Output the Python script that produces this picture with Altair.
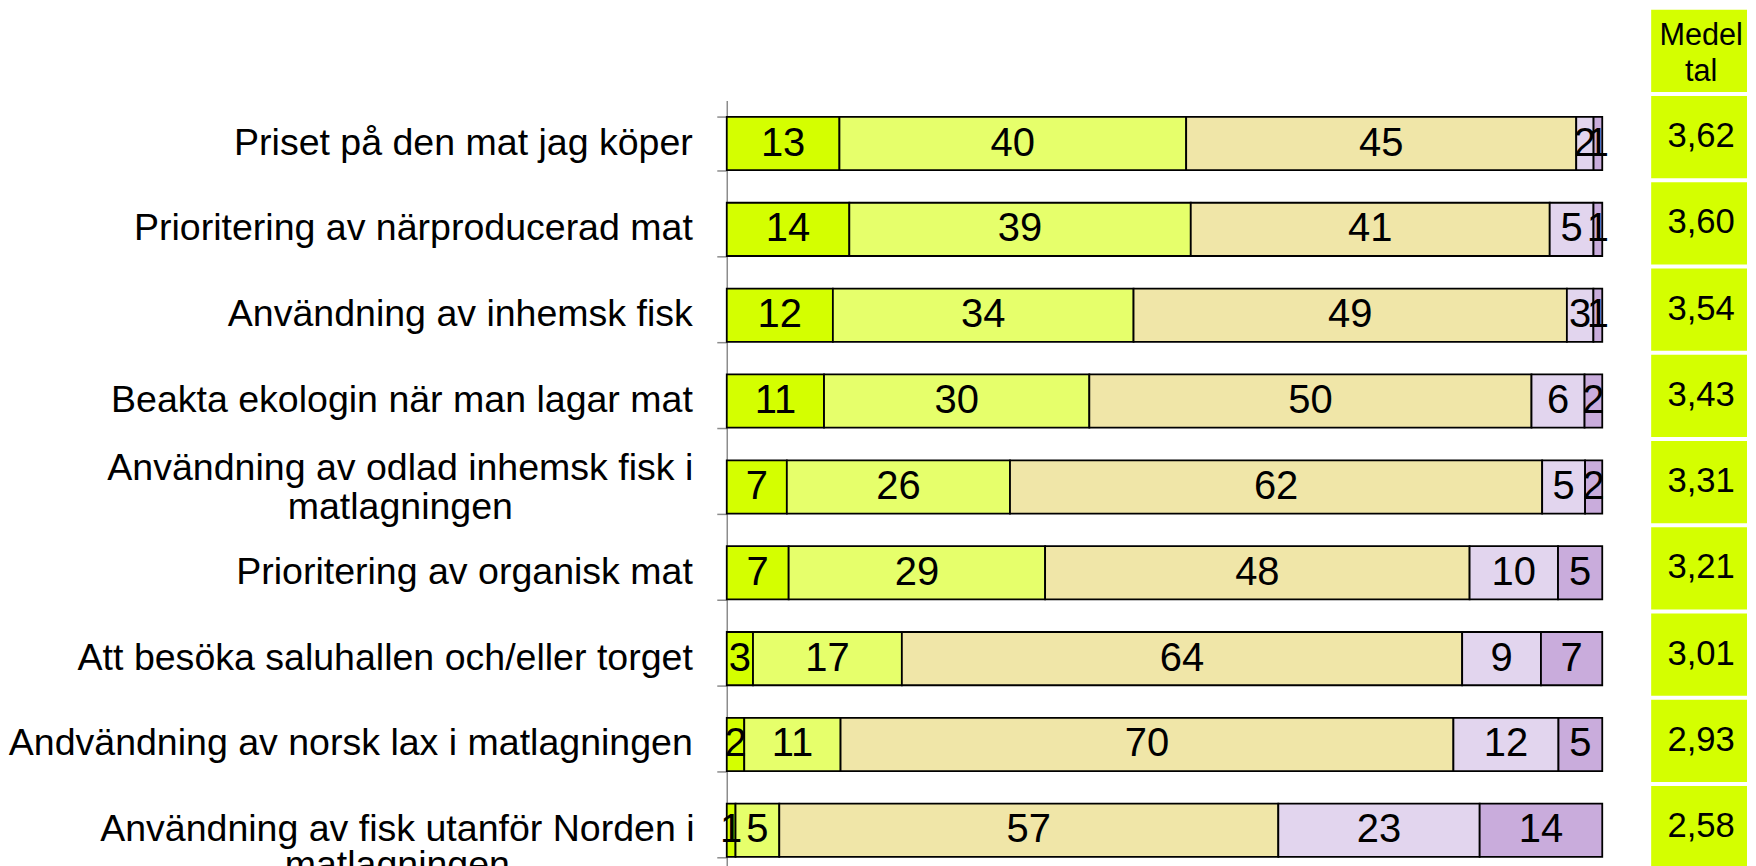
import altair as alt
import pandas as pd

categories = [
    "Priset på den mat jag köper",
    "Prioritering av närproducerad mat",
    "Användning av inhemsk fisk",
    "Beakta ekologin när man lagar mat",
    "Användning av odlad inhemsk fisk i matlagningen",
    "Prioritering av organisk mat",
    "Att besöka saluhallen och/eller torget",
    "Andvändning av norsk lax i matlagningen",
    "Användning av fisk utanför Norden i matlagningen",
]
label_lines = [
    "Priset på den mat jag köper",
    "Prioritering av närproducerad mat",
    "Användning av inhemsk fisk",
    "Beakta ekologin när man lagar mat",
    "Användning av odlad inhemsk fisk i|matlagningen",
    "Prioritering av organisk mat",
    "Att besöka saluhallen och/eller torget",
    "Andvändning av norsk lax i matlagningen",
    "Användning av fisk utanför Norden i|matlagningen",
]
segments = ["Mycket stor", "Ganska stor", "Varken eller", "Ganska liten", "Mycket liten"]
s1 = [13, 14, 12, 11, 7, 7, 3, 2, 1]
s2 = [40, 39, 34, 30, 26, 29, 17, 11, 5]
s3 = [45, 41, 49, 50, 62, 48, 64, 70, 57]
s4 = [2, 5, 3, 6, 5, 10, 9, 12, 23]
s5 = [1, 1, 1, 2, 2, 5, 7, 5, 14]
medeltal = ["3,62", "3,60", "3,54", "3,43", "3,31", "3,21", "3,01", "2,93", "2,58"]
header_key = "Medel tal"
header_text = "Medel|tal"
colors = ["#d4ff00", "#e6ff6b", "#f0e6a8", "#e2d5ee", "#c9acdc"]
FONT = "Liberation Sans"
LABEL_SIZE = 37.6

series = [s1, s2, s3, s4, s5]
rows = []
for i, cat in enumerate(categories):
    for k, seg in enumerate(segments):
        rows.append({"cat": cat, "seg": seg, "k": k, "v": series[k][i]})
df = pd.DataFrame(rows)

lab_df = pd.DataFrame({
    "cat": categories,
    "label": label_lines,
    "two": ["|" in s for s in label_lines],
    "idx": list(range(len(categories))),
})

xscale = alt.Scale(domain=[0, 1], nice=False)
yscale = alt.Scale(domain=categories, paddingInner=0.38, paddingOuter=0.19)

base = (
    alt.Chart(df)
    .transform_joinaggregate(total="sum(v)", groupby=["cat"])
    .transform_window(cum="sum(v)", sort=[alt.SortField("k", order="ascending")],
                      groupby=["cat"], frame=[None, 0])
    .transform_calculate(
        x0="(datum.cum - datum.v) / datum.total",
        x1="datum.cum / datum.total",
        mid="(datum.cum - datum.v / 2) / datum.total",
    )
)

rects = base.mark_bar(stroke="black", strokeWidth=1.8).encode(
    x=alt.X("x0:Q", scale=xscale, axis=None),
    x2="x1:Q",
    y=alt.Y("cat:N", scale=yscale,
            axis=alt.Axis(title=None, labels=False, tickBand="extent", tickSize=10,
                          tickColor="#8c8c8c", tickWidth=1.5, domainColor="#8c8c8c",
                          domainWidth=1.5, grid=False)),
    color=alt.Color("seg:N", scale=alt.Scale(domain=segments, range=colors), legend=None),
)

nums = base.mark_text(fontSize=40, color="black", align="center", baseline="middle").encode(
    x=alt.X("mid:Q", scale=xscale),
    y=alt.Y("cat:N"),
    text="v:Q",
)

lab1 = alt.Chart(lab_df).transform_filter("!datum.two").mark_text(
    align="right", baseline="middle", fontSize=LABEL_SIZE, color="black"
).encode(x=alt.value(-34), y=alt.Y("cat:N"), text="label:N")

lab2a = alt.Chart(lab_df).transform_filter("datum.two && datum.idx < 8").mark_text(
    align="center", baseline="middle", fontSize=LABEL_SIZE, color="black",
    lineBreak="|", lineHeight=39, dy=-18
).encode(x=alt.value(-327), y=alt.Y("cat:N"), text="label:N")

lab2b = alt.Chart(lab_df).transform_filter("datum.two && datum.idx == 8").mark_text(
    align="center", baseline="middle", fontSize=LABEL_SIZE, color="black",
    lineBreak="|", lineHeight=36, dy=0
).encode(x=alt.value(-330), y=alt.Y("cat:N"), text="label:N")

bars = alt.layer(rects, nums, lab1, lab2a, lab2b).properties(width=877, height=774)

spacer = alt.Chart(pd.DataFrame({"a": [0]})).mark_rect(opacity=0).encode(
    x=alt.value(0), x2=alt.value(1), y=alt.value(0), y2=alt.value(1)
).properties(width=877, height=89)

med_df = pd.DataFrame({
    "key": [header_key] + categories,
    "text": [header_text] + medeltal,
    "kind": ["h"] + ["v"] * len(categories),
})
mscale = alt.Scale(domain=[header_key] + categories, paddingInner=0.046, paddingOuter=0)

mrect = alt.Chart(med_df).mark_rect(color="#d4ff00").encode(
    y=alt.Y("key:N", scale=mscale, axis=None),
    x=alt.value(0),
    x2=alt.value(96),
)
mval = alt.Chart(med_df).transform_filter("datum.kind == 'v'").mark_text(
    fontSize=34.7, color="black", align="center", baseline="middle"
).encode(y=alt.Y("key:N"), x=alt.value(50), text="text:N")
mhead = alt.Chart(med_df).transform_filter("datum.kind == 'h'").mark_text(
    fontSize=30.7, color="black", align="center", baseline="middle",
    lineBreak="|", lineHeight=36, dy=-15
).encode(y=alt.Y("key:N"), x=alt.value(50), text="text:N")

medel = alt.layer(mrect, mval, mhead).properties(width=96, height=860)

chart = (
    alt.hconcat(alt.vconcat(spacer, bars, spacing=0), medel, spacing=40)
    .properties(padding={"left": 0, "top": 0, "right": 0, "bottom": 0})
    .configure(font=FONT, view=alt.ViewConfig(stroke="transparent"))
)

chart.save("out.html", embed_options={"renderer": "svg", "actions": False})
